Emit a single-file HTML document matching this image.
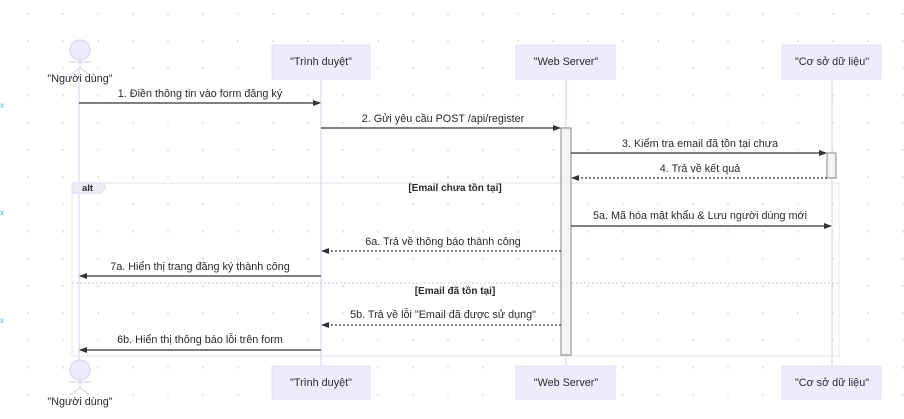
<!DOCTYPE html>
<html><head><meta charset="utf-8"><style>
html,body{margin:0;padding:0;background:#fff;}
svg{display:block;font-family:"Liberation Sans","DejaVu Sans",sans-serif;}
text{font-size:10.8px;fill:#2a2a2a;}
</style></head><body>
<svg width="904" height="419" viewBox="0 0 904 419" xmlns="http://www.w3.org/2000/svg">
<defs>
<pattern id="dots" x="10" y="0" width="35" height="27.2" patternUnits="userSpaceOnUse">
<rect x="17" y="13" width="2" height="2" fill="#e4e4e8"/>
</pattern>
<marker id="ar" markerWidth="8" markerHeight="8" refX="7" refY="4" orient="auto" markerUnits="userSpaceOnUse">
<path d="M0,1 L8,4 L0,7 z" fill="#333"/>
</marker>
</defs>
<rect width="904" height="419" fill="url(#dots)"/>
<g><text x="0" y="108" style="fill:#4ab8d8;font-size:8px">x</text><text x="0" y="215" style="fill:#4ab8d8;font-size:8px">x</text><text x="0" y="323" style="fill:#4ab8d8;font-size:8px">x</text></g>

<g stroke="#d8d8ee" stroke-width="1.2">
<line x1="79" y1="70" x2="79" y2="362"/>
<line x1="321" y1="79" x2="321" y2="366"/>
<line x1="566" y1="79" x2="566" y2="366"/>
<line x1="832" y1="79" x2="832" y2="366"/>
</g>

<rect x="72" y="183" width="767" height="173" fill="none" stroke="#e4e4ee" stroke-width="1"/>
<path d="M72,183 H105 V189 L100,193 H72 Z" fill="#ececf8" stroke="#dcdcee"/>
<text x="82" y="191" style="font-weight:bold;font-size:9.5px">alt</text>
<text x="455" y="191" text-anchor="middle" style="font-weight:bold;font-size:10px">[Email chưa tồn tại]</text>
<line x1="72" y1="283" x2="839" y2="283" stroke="#c8c8d8" stroke-dasharray="2,2"/>
<text x="455" y="294" text-anchor="middle" style="font-weight:bold;font-size:10px">[Email đã tồn tại]</text>

<rect x="561" y="128" width="10" height="227" fill="#f4f4f4" stroke="#888" stroke-width="1"/>
<rect x="827" y="153" width="9" height="25" fill="#f4f4f4" stroke="#888" stroke-width="1"/>

<g fill="#ececfc" stroke="#e0e0f4">
<rect x="272" y="45" width="98" height="34"/>
<rect x="516" y="45" width="99" height="34"/>
<rect x="782" y="45" width="99" height="34"/>
<rect x="272" y="366" width="98" height="33"/>
<rect x="516" y="366" width="99" height="33"/>
<rect x="782" y="366" width="99" height="33"/>
</g>
<g text-anchor="middle">
<text x="321" y="65">"Trình duyệt"</text>
<text x="566" y="65">"Web Server"</text>
<text x="832" y="65">"Cơ sở dữ liệu"</text>
<text x="321" y="386">"Trình duyệt"</text>
<text x="566" y="386">"Web Server"</text>
<text x="832" y="386">"Cơ sở dữ liệu"</text>
</g>

<g fill="#ececfc" stroke="#d0d0e8">
<circle cx="80" cy="50" r="10"/>
<circle cx="80" cy="370" r="10"/>
</g>
<g stroke="#d0d0e8">
<line x1="68" y1="62" x2="92" y2="62"/><line x1="80" y1="60" x2="80" y2="68"/>
<line x1="80" y1="68" x2="70" y2="75"/><line x1="80" y1="68" x2="90" y2="75"/>
<line x1="68" y1="382" x2="92" y2="382"/><line x1="80" y1="380" x2="80" y2="388"/>
<line x1="80" y1="388" x2="70" y2="395"/><line x1="80" y1="388" x2="90" y2="395"/>
</g>
<text x="80" y="82" text-anchor="middle">"Người dùng"</text>
<text x="80" y="405" text-anchor="middle">"Người dùng"</text>

<g stroke="#333" stroke-width="1.2" fill="none">
<line x1="79" y1="103" x2="320" y2="103" marker-end="url(#ar)"/>
<line x1="321" y1="128" x2="560" y2="128" marker-end="url(#ar)"/>
<line x1="571" y1="153" x2="826" y2="153" marker-end="url(#ar)"/>
<line x1="827" y1="178" x2="572" y2="178" stroke-dasharray="2,2" marker-end="url(#ar)"/>
<line x1="571" y1="226" x2="831" y2="226" marker-end="url(#ar)"/>
<line x1="561" y1="251" x2="322" y2="251" stroke-dasharray="2,2" marker-end="url(#ar)"/>
<line x1="321" y1="276" x2="80" y2="276" marker-end="url(#ar)"/>
<line x1="561" y1="325" x2="322" y2="325" stroke-dasharray="2,2" marker-end="url(#ar)"/>
<line x1="321" y1="350" x2="80" y2="350" marker-end="url(#ar)"/>
</g>
<g text-anchor="middle">
<text x="200" y="97">1. Điền thông tin vào form đăng ký</text>
<text x="443" y="122">2. Gửi yêu cầu POST /api/register</text>
<text x="700" y="147">3. Kiểm tra email đã tồn tại chưa</text>
<text x="700" y="172">4. Trả về kết quả</text>
<text x="700" y="219">5a. Mã hóa mật khẩu &amp; Lưu người dùng mới</text>
<text x="443" y="245">6a. Trả về thông báo thành công</text>
<text x="200" y="270">7a. Hiển thị trang đăng ký thành công</text>
<text x="443" y="318">5b. Trả về lỗi "Email đã được sử dụng"</text>
<text x="200" y="343">6b. Hiển thị thông báo lỗi trên form</text>
</g>
</svg>
</body></html>
